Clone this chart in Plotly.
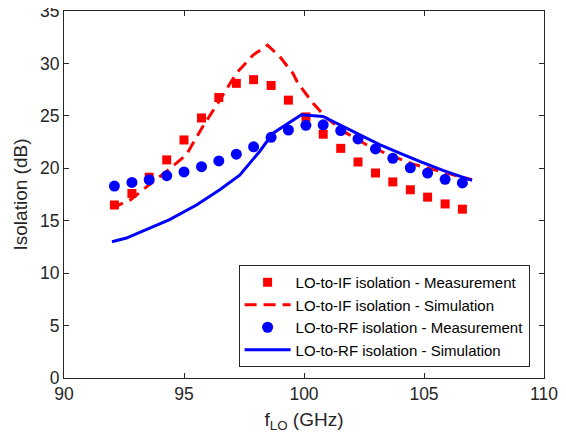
import plotly.graph_objects as go

# Measurement frequencies (GHz)
f_meas = [92.10, 92.83, 93.55, 94.28, 95.00, 95.73, 96.45, 97.18, 97.90, 98.63, 99.35,
          100.08, 100.80, 101.53, 102.25, 102.98, 103.70, 104.43, 105.15, 105.88, 106.60]
if_meas = [16.5, 17.6, 19.15, 20.8, 22.7, 24.8, 26.75, 28.1, 28.45, 27.9, 26.5,
           24.9, 23.25, 21.9, 20.6, 19.55, 18.7, 17.95, 17.25, 16.6, 16.1]
rf_meas = [18.3, 18.65, 18.9, 19.3, 19.65, 20.15, 20.7, 21.35, 22.05, 22.95, 23.65,
           24.1, 24.15, 23.6, 22.8, 21.85, 20.95, 20.05, 19.55, 18.95, 18.6]

# Simulations
f_if_sim = [92.0, 92.78, 93.53, 94.27, 95.10, 95.79, 96.49, 97.18, 97.88, 98.48,
            98.99, 99.54, 99.75, 100.38, 100.93, 101.77, 102.60, 103.43, 104.54,
            105.52, 106.49, 107.0]
if_sim = [16.2, 17.0, 18.4, 19.7, 21.3, 24.0, 26.5, 29.05, 30.8, 31.75,
          30.65, 29.05, 28.1, 26.2, 24.8, 23.35, 22.25, 21.4, 20.4,
          19.8, 19.2, 18.9]
f_rf_sim = [92.0, 92.60, 93.57, 94.40, 95.52, 96.49, 97.32, 98.15, 98.71, 99.27,
            99.89, 100.79, 101.49, 102.32, 103.15, 103.99, 104.82, 105.79, 107.0]
rf_sim = [13.0, 13.35, 14.3, 15.1, 16.5, 17.95, 19.35, 21.6, 23.35, 24.15,
          25.1, 24.95, 24.15, 23.2, 22.25, 21.45, 20.65, 19.8, 18.85]

x_ticks = [90, 95, 100, 105, 110]
y_ticks = [0, 5, 10, 15, 20, 25, 30, 35]

FONT = "Liberation Sans, Arial, sans-serif"

fig = go.Figure()
fig.add_trace(go.Scatter(x=f_meas, y=if_meas, mode="markers",
                         name="LO-to-IF isolation - Measurement",
                         marker=dict(symbol="square", size=9, color="#FF0000")))
fig.add_trace(go.Scatter(x=f_if_sim, y=if_sim, mode="lines",
                         name="LO-to-IF isolation - Simulation",
                         line=dict(color="#FF0000", width=3, dash="12px,7px")))
fig.add_trace(go.Scatter(x=f_meas, y=rf_meas, mode="markers",
                         name="LO-to-RF isolation - Measurement",
                         marker=dict(symbol="circle", size=11, color="#0000FF")))
fig.add_trace(go.Scatter(x=f_rf_sim, y=rf_sim, mode="lines",
                         name="LO-to-RF isolation - Simulation",
                         line=dict(color="#0000FF", width=3)))

axis_common = dict(showgrid=False, zeroline=False, showline=True, linecolor="#262626",
                   linewidth=1, mirror="ticks", ticks="inside", ticklen=5,
                   tickcolor="#262626", ticklabeloverflow="allow", automargin=False,
                   tickfont=dict(family=FONT, size=17.5, color="#262626"))

# The page body keeps its default 8px margin, so the figure is 8px smaller
# in each direction and the plot area lands where the reference has it.
fig.update_layout(
    width=558, height=433,
    margin=dict(l=56, r=22, t=3, b=63),
    paper_bgcolor="white", plot_bgcolor="white",
    font=dict(family=FONT, color="#262626"),
    xaxis=dict(range=[90, 110], tickvals=x_ticks, title=dict(text="f<sub>LO</sub> (GHz)",
               font=dict(size=19), standoff=9), **axis_common),
    yaxis=dict(range=[0, 35], tickvals=y_ticks, title=dict(text="Isolation (dB)",
               font=dict(size=19), standoff=7), **axis_common),
    legend=dict(x=0.970, y=0.030, xanchor="right", yanchor="bottom",
                bgcolor="white", bordercolor="#262626", borderwidth=1,
                font=dict(family=FONT, size=15, color="black"),
                tracegroupgap=0, itemwidth=46),
    showlegend=True,
)

fig.write_html("out.html")
